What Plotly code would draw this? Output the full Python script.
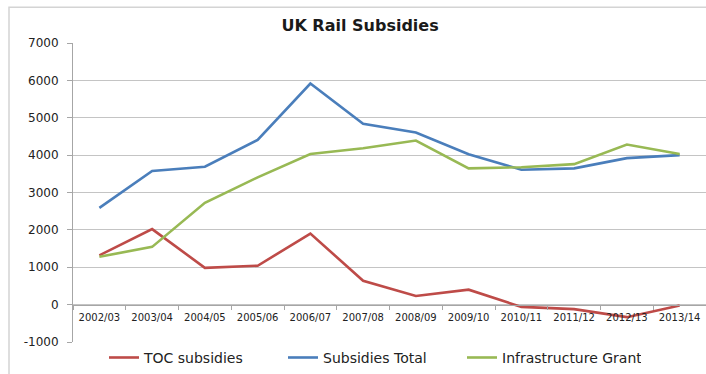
import plotly.graph_objects as go

categories = ["2002/03", "2003/04", "2004/05", "2005/06", "2006/07", "2007/08",
              "2008/09", "2009/10", "2010/11", "2011/12", "2012/13", "2013/14"]
toc_subsidies = [1320, 2020, 985, 1040, 1900, 640, 230, 400, -60, -120, -335, -25]
subsidies_total = [2590, 3575, 3690, 4405, 5915, 4840, 4605, 4025, 3610, 3645, 3920, 4000]
infrastructure_grant = [1280, 1545, 2725, 3405, 4030, 4185, 4390, 3645, 3675, 3760, 4285, 4030]
y_ticks = [-1000, 0, 1000, 2000, 3000, 4000, 5000, 6000, 7000]
y_tick_labels = ["-1000", "0", "1000", "2000", "3000", "4000", "5000", "6000", "7000"]

FONT = "DejaVu Sans"
fig = go.Figure()
series = [
    ("TOC subsidies", toc_subsidies, "#BE4B48"),
    ("Subsidies Total", subsidies_total, "#4A7EBB"),
    ("Infrastructure Grant", infrastructure_grant, "#98B954"),
]
for name, vals, col in series:
    fig.add_trace(go.Scatter(x=categories, y=vals, mode="lines", name=name,
                             line=dict(color=col, width=2.6)))

fig.update_layout(
    width=706, height=374,
    margin=dict(l=73, r=0, t=43, b=30),
    paper_bgcolor="white", plot_bgcolor="white",
    title=dict(text="<b>UK Rail Subsidies</b>", x=0.51, xanchor="center",
               y=1 - 25 / 374, yanchor="middle",
               font=dict(family=FONT, size=16, color="#1a1a1a")),
    showlegend=True,
    legend=dict(orientation="h", x=(104 - 73) / 633, xanchor="left",
                y=(344 - 360) / 301, yanchor="middle",
                entrywidth=134, entrywidthmode="pixels",
                font=dict(family=FONT, size=14, color="#222222"),
                bgcolor="rgba(0,0,0,0)"),
    xaxis=dict(type="category", anchor="free", position=1000 / 8000,
               range=[-0.5, len(categories) - 0.5],
               showline=True, linecolor="#a6a6a6", linewidth=1,
               ticks="outside", tickson="boundaries", ticklen=4,
               tickcolor="#a6a6a6", showgrid=False, ticklabelstandoff=3,
               tickangle=0,
               tickfont=dict(family=FONT, size=10, color="#222222")),
    yaxis=dict(range=[-1000, 7000], tickvals=y_ticks, ticktext=y_tick_labels,
               showgrid=True,
               gridcolor="#c4c4c4", gridwidth=1, zeroline=False,
               showline=True, linecolor="#a6a6a6", linewidth=1,
               ticks="outside", ticklen=5, tickcolor="#a6a6a6",
               ticklabelstandoff=6,
               tickfont=dict(family=FONT, size=12, color="#222222")),
    shapes=[dict(type="rect", xref="paper", yref="paper",
                 x0=(9 - 73) / 633, x1=1.02, y0=-0.2, y1=(344 - 7) / 301,
                 line=dict(color="#d4d4d4", width=1.5), layer="below")],
)

fig.write_html("out.html")
